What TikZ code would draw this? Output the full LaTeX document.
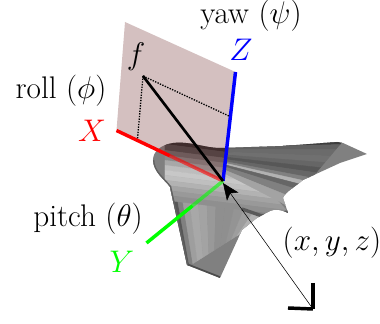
\documentclass[tikz,border=0pt]{standalone}
\usepackage{tikz}
\usetikzlibrary{arrows.meta, calc}
\definecolor{planered}{RGB}{120,60,60}
\definecolor{axisgreen}{RGB}{0,255,0}
\begin{document}
\begin{tikzpicture}[x=0.75pt, y=-0.75pt,
  axisline/.style={line width=2.6pt},
  dotline/.style={densely dotted, line width=1pt},
  label/.style={font=\huge, inner sep=0pt, scale=1.13, transform shape},
  facet/.style={fill=black!#1, draw=black!#1, line width=0.3pt}
]
  \useasboundingbox (0,0) rectangle (380,324);
  \coordinate (org) at (223,181);
  \coordinate (xend) at (116.5,130.5);
  \coordinate (yend) at (146.5,243);
  \coordinate (zend) at (235.5,72);
  \coordinate (corner) at (125,22);
  \coordinate (fpt) at (143,76);
  \coordinate (zfoot) at (229,116);
  \coordinate (xfoot) at (137.5,139);
  \coordinate (camera) at (313,309);
  \coordinate (hit) at (223,183);
  \coordinate (camy) at (313,283);
  \coordinate (camx) at (288,308);
  % aircraft
  \coordinate (la) at (170,187);
  \coordinate (lb) at (262,216);
  \coordinate (lc) at (186,268);
  \coordinate (ld) at (243,232);
  \coordinate (ba) at (165,138);
  \coordinate (bb) at (165,200);
  \coordinate (bc) at (226,146);
  \coordinate (bd) at (292,216);
  \coordinate (wa) at (226,146);
  \coordinate (wb) at (226,174);
  \coordinate (wc) at (342,142);
  \coordinate (wd) at (288,206);
  \begin{scope}
    \clip (153,160) .. controls (153,152) and (160,145) .. (173,143)
      .. controls (190,141) and (205,148) .. (220,148)
      -- (283,146) -- (337,142) -- (343,143) -- (367,154) -- (340,163)
      -- (303,180) .. controls (295,187) and (285,192) .. (283,198)
      -- (288,213) .. controls (280,209) and (275,209) .. (270,211)
      -- (257,218) -- (242,230) -- (220,278)
      -- (187,265) -- (170,187) .. controls (165,180) and (153,172) .. (153,160) -- cycle;
    \fill[black!50] (140,130) rectangle (380,290);
    % lower wing
    \foreach \sa/\sb/\g in {0/.06/66, .06/.12/50, .12/.2/38, .2/.3/34, .3/.4/36, .4/.5/40,
        .5/.6/44, .6/.7/44, .7/.8/42, .8/.9/38, .9/1/30}
      \path[facet=\g] ($(la)!\sa!(lb)$) -- ($(la)!\sb!(lb)$) -- ($(lc)!\sb!(ld)$) -- ($(lc)!\sa!(ld)$) -- cycle;
    \draw[line width=2.5pt, black!70] (187,265) -- (220,278);
    % body
    \foreach \sa/\sb/\g in {0/.1/85, .1/.2/72, .2/.28/58, .28/.36/46, .36/.44/34, .44/.52/26,
        .52/.6/22, .6/.68/25, .68/.76/30, .76/.84/36, .84/.92/40, .92/1/44}
      \path[facet=\g] ($(ba)!\sa!(bb)$) -- ($(ba)!\sb!(bb)$) -- ($(bc)!\sb!(bd)$) -- ($(bc)!\sa!(bd)$) -- cycle;
    \draw[line width=2.5pt, black!65] (242,209) -- (262,216) -- (288,212);
    % right wing
    \foreach \sa/\sb/\g in {0/.04/76, .04/.12/62, .12/.22/58, .22/.32/56, .32/.4/60, .4/.48/66,
        .48/.56/60, .56/.62/50, .62/.68/30, .68/.76/60, .76/.88/50, .88/1/36}
      \path[facet=\g] ($(wa)!\sa!(wb)$) -- ($(wa)!\sb!(wb)$) -- ($(wc)!\sb!(wd)$) -- ($(wc)!\sa!(wd)$) -- cycle;
    \draw[line width=2pt, black!62] (153,160) .. controls (153,172) and (165,180) .. (170,187) -- (187,265);
  \end{scope}
  % plane
  \fill[planered, opacity=0.32] (corner) -- (zend) -- (org) -- (xend) -- cycle;
  % axes
  \draw[axisline, red] (xend) -- ($(xend)!0.5!(org)$);
  \draw[axisline, red, opacity=0.6] ($(xend)!0.5!(org)$) -- (org);
  \draw[axisline, axisgreen] (yend) -- ($(yend)!0.6!(org)$);
  \draw[axisline, axisgreen, opacity=0.6] ($(yend)!0.6!(org)$) -- (org);
  \draw[axisline, blue] (org) -- (zend);
  \draw[dotline] (fpt) -- (zfoot);
  \draw[dotline] (fpt) -- (xfoot);
  \draw[line width=2pt] (fpt) -- (org);
  \draw[line width=0.4pt, -{Stealth[length=12.5pt, width=10.5pt, inset=3pt]}] (camera) -- (hit);
  \draw[line width=2.6pt] (camy) -- (camera);
  \draw[line width=2.6pt] (camx) -- (camera);
  % labels
  \node[label] (yawlabel) at (251,16) {yaw ($\psi$)};
  \node[label] (rolllabel) at (61,91) {roll ($\phi$)};
  \node[label] (pitchlabel) at (88,219) {pitch ($\theta$)};
  \node[label] (flabel) at (136,57) {$f$};
  \node[label, text=red] (xlabel) at (92,131) {$X$};
  \node[label, text=axisgreen] (ylabel) at (122,262) {$Y$};
  \node[label, text=blue] (zlabel) at (241,50) {$Z$};
  \node[label] (poslabel) at (332,243) {$(x,y,z)$};
\end{tikzpicture}
\end{document}
